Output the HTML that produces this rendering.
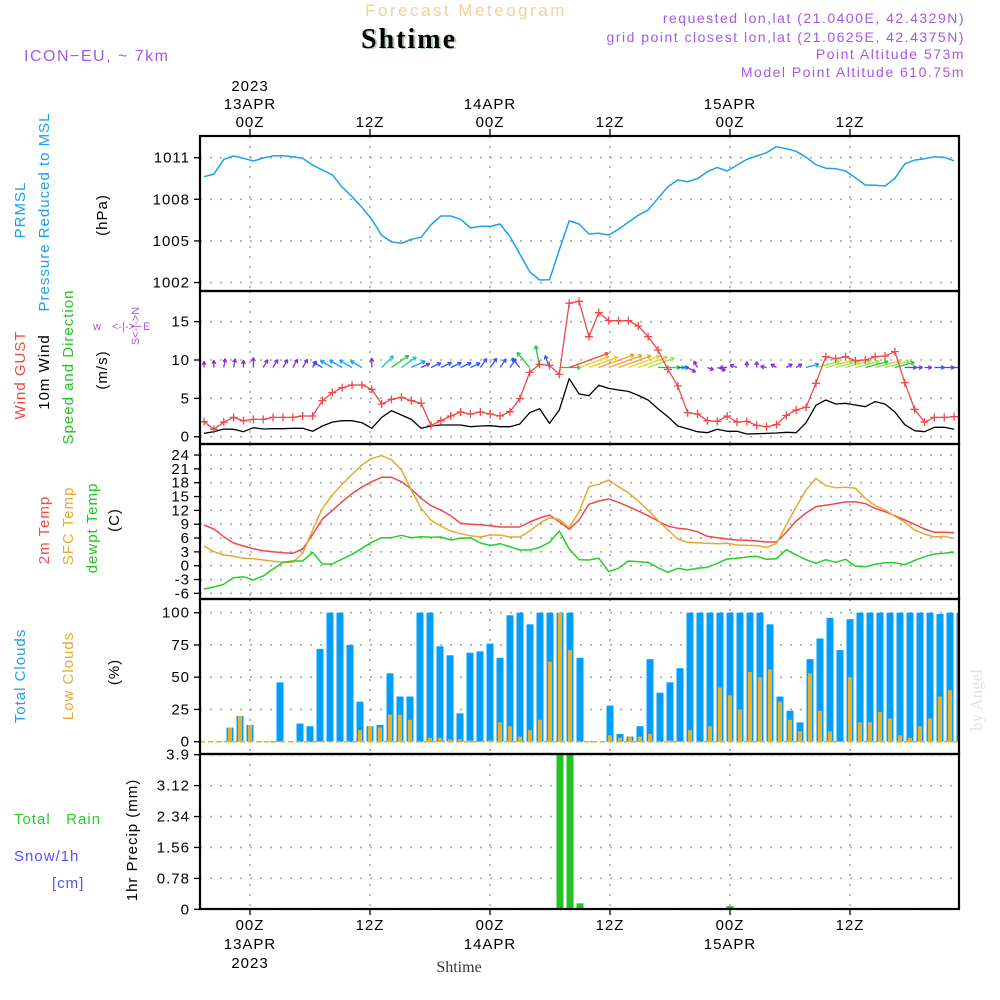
<!DOCTYPE html>
<html><head><meta charset="utf-8"><title>Forecast Meteogram Shtime</title>
<style>
html,body{margin:0;padding:0;background:#fff;}
svg{display:block;font-family:"Liberation Sans",sans-serif;}
.tl{font-size:15px;fill:#000;letter-spacing:1px;}
.hd{font-size:15px;letter-spacing:1.5px;}
</style></head>
<body>
<svg id="chart" width="1000" height="1000" viewBox="0 0 1000 1000" xmlns="http://www.w3.org/2000/svg">
<defs><clipPath id="plotclip"><rect x="200" y="130" width="759" height="790"/></clipPath></defs>
<rect width="1000" height="1000" fill="#fff"/>
<text x="466" y="16" text-anchor="middle" class="hd" style="font-size:17px;letter-spacing:2.5px" fill="#f2d09a">Forecast Meteogram</text>
<text x="411" y="49" text-anchor="middle" font-family="Liberation Serif" font-weight="bold" font-size="28" letter-spacing="2" fill="#b8d0b8">Shtime</text>
<text x="409" y="48" text-anchor="middle" font-family="Liberation Serif" font-weight="bold" font-size="28" letter-spacing="2" fill="#000">Shtime</text>
<text x="24" y="61" class="hd" style="font-size:16px" fill="#a855e8">ICON−EU, ~ 7km</text>
<g fill="#a855e8" class="hd" text-anchor="end" style="font-size:14px">
<text x="965" y="23">requested lon,lat (21.0400E, 42.4329N)</text>
<text x="965" y="42">grid point closest lon,lat (21.0625E, 42.4375N)</text>
<text x="965" y="59">Point Altitude 573m</text>
<text x="965" y="77">Model Point Altitude 610.75m</text>
</g>
<g id="grid"></g>
<g id="marks" clip-path="url(#plotclip)"></g>
<g id="frames"></g>
<g id="labels"></g>
<text transform="translate(982,700) rotate(-90)" text-anchor="middle" font-family="Liberation Serif" font-size="17" fill="#dde6dd">by Angel</text>
<text x="459" y="972" text-anchor="middle" font-family="Liberation Serif" font-size="16" fill="#333">Shtime</text>
</svg>
<script>
// ---- data ----
const lineStart = -4.6, lineStep = 0.987;
const pressure = [1009.63,1009.82,1010.88,1011.12,1010.96,1010.76,1010.98,1011.14,1011.14,1011.07,1010.96,1010.47,1010.11,1009.77,1008.87,1008.19,1007.42,1006.56,1005.4,1004.92,1004.83,1005.12,1005.26,1006.17,1006.8,1006.8,1006.56,1005.93,1006.05,1006.05,1006.22,1005.3,1004.06,1002.78,1002.18,1002.2,1004.35,1006.44,1006.22,1005.5,1005.55,1005.43,1005.84,1006.36,1006.85,1007.23,1008.07,1008.91,1009.39,1009.27,1009.49,1009.99,1010.3,1010.04,1010.47,1010.88,1011.12,1011.36,1011.79,1011.65,1011.46,1011.03,1010.5,1010.24,1010.21,1010.04,1009.56,1009.03,1009.01,1008.96,1009.51,1010.55,1010.83,1010.93,1011.07,1011.03,1010.78];
const gust = [1.96,0.96,1.91,2.52,2.09,2.26,2.26,2.52,2.52,2.52,2.7,2.7,4.7,5.74,6.39,6.74,6.74,6.17,4.26,4.87,5.13,4.7,4.35,1.48,2.09,2.7,3.22,2.96,3.22,2.96,2.7,3.26,4.96,8.39,9.43,9.3,8.13,17.4,17.65,13.04,16.17,15.13,15.13,15.13,14.43,13.04,11.3,8.78,6.61,3.13,2.96,2.09,2.0,2.7,1.91,2.0,1.48,1.3,1.57,2.78,3.48,3.83,6.96,10.43,10.17,10.43,9.91,10.0,10.43,10.52,11.09,7.04,3.57,1.91,2.52,2.52,2.61];
const wind10 = [0.43,0.65,1.0,0.96,0.65,1.17,1.0,1.04,1.04,1.09,1.09,0.7,1.39,1.91,2.09,2.09,1.83,1.09,2.52,3.39,2.83,2.26,1.09,1.39,1.52,1.52,1.52,1.3,1.39,1.43,1.3,1.3,1.65,3.13,3.65,1.74,3.48,7.57,5.57,5.35,6.7,6.3,6.09,5.91,5.39,4.78,3.65,2.61,1.39,1.04,0.65,0.52,0.96,0.7,0.7,0.35,0.39,0.43,0.48,0.57,0.52,1.83,4.09,4.78,4.26,4.35,4.13,3.91,4.57,4.26,3.22,1.57,0.78,0.65,1.22,1.22,0.96];
const windDir = [90,90,80,80,90,90,60,60,60,60,60,60,150,150,150,150,150,90,45,35,35,25,25,25,25,25,25,25,55,55,55,55,130,130,100,110,0,20,20,20,20,20,20,20,20,20,0,0,0,-30,120,-20,-20,180,160,90,90,170,150,30,30,15,15,15,15,15,15,15,15,15,15,0,0,0,0,0,0];
const temp2m = [8.83,7.96,6.3,4.92,4.27,3.69,3.26,3.04,2.83,2.68,3.62,6.8,10.13,12.0,13.89,15.63,17.07,18.23,19.17,19.17,18.23,16.64,14.61,13.02,12.08,10.85,9.19,8.97,8.9,8.68,8.39,8.39,8.39,9.48,10.35,11.0,9.55,7.89,9.91,13.31,14.03,14.47,13.75,12.81,11.87,10.85,9.7,8.61,8.11,7.89,7.38,6.37,6.08,5.79,5.57,5.5,5.36,5.14,5.14,7.24,9.7,11.43,12.81,13.1,13.46,13.82,13.89,13.46,12.44,11.72,10.85,9.91,8.97,7.96,7.24,7.24,7.16];
const tempSfc = [4.27,3.04,2.32,2.03,1.6,1.53,1.24,0.95,0.73,0.73,2.68,7.74,12.44,15.34,17.65,19.82,21.84,23.29,23.87,23.0,20.76,16.42,12.44,9.84,8.61,7.53,6.95,6.51,6.23,6.66,6.66,6.23,6.23,7.53,9.19,10.42,10.06,8.25,11.72,17.14,17.65,18.59,17.14,15.84,14.03,12.01,9.84,7.74,5.79,5.07,5.0,4.85,4.78,4.85,4.49,4.42,4.35,3.98,4.85,8.83,12.8,16.42,18.95,17.36,16.93,17.0,16.78,14.61,13.02,12.08,10.71,9.41,7.74,6.88,6.23,6.37,5.94];
const dewpt = [-5.05,-4.62,-4.04,-2.6,-2.38,-3.1,-2.23,-0.72,0.73,1.02,1.02,2.9,0.37,0.37,1.45,2.47,3.77,5.07,6.08,6.08,6.59,6.08,6.3,6.15,6.22,5.57,5.94,6.08,4.92,4.35,4.78,4.13,3.41,3.41,3.98,5.07,7.53,3.62,1.31,1.24,1.6,-1.29,-0.57,1.02,0.87,0.73,-0.43,-1.44,-0.57,-0.93,-0.57,-0.35,0.51,1.45,1.6,1.89,2.03,1.38,1.52,3.48,2.32,1.31,0.51,1.31,0.73,1.38,-0.08,-0.22,0.3,0.66,0.66,0.22,1.16,1.96,2.54,2.68,2.97];
const barStart = -4;
const totalClouds = [0,0,11,20,13,0,0,46,0,14,12,72,100,100,75,31,12,13,53,35,35,100,100,74,67,22,69,70,76,65,98,100,91,100,100,100,100,65,0,0,28,6,4,12,64,38,46,57,100,100,100,100,100,100,100,100,91,35,24,15,64,80,96,71,95,100,100,100,100,100,100,100,100,99,100,100];
const lowClouds = [0,0,11,20,13,0,0,0,0,0,0,0,0,0,0,9,12,11,21,21,17,0,3,3,2,2,1,0,1,15,12,4,9,17,62,100,71,0,0,0,5,3,4,4,6,0,1,0,9,0,12,42,36,25,54,50,56,31,17,8,53,24,8,0,50,15,15,23,18,5,3,12,18,35,40,42];
const precip = [0,0,0,0,0,0,0,0,0,0,0,0,0,0,0,0,0,0,0,0,0,0,0,0,0,0,0,0,0,0,0,0,0,0,0,3.9,3.9,0.15,0,0,0,0,0,0,0,0,0,0,0,0,0,0,0.08,0,0,0,0,0,0,0,0,0,0,0,0,0,0,0,0,0,0,0,0,0,0,0];
const pTicks = [1002,1005,1008,1011];
const wTicks = [0,5,10,15];
const tTicks = [-6,-3,0,3,6,9,12,15,18,21,24];
const cTicks = [0,25,50,75,100];
const rTicks = ["0","0.78","1.56","2.34","3.12","3.9"];
const timeTicks = [0,12,24,36,48,60];
const timeTickLabels = ["00Z","12Z","00Z","12Z","00Z","12Z"];
const dayLabels = ["13APR","","14APR","","15APR",""];

// ---- axes ----
const L=200,R=959;
const X = h => 250 + 10*h;
const yP = p => 157.7 + (1011-p)*13.87;
const yW = v => 436.7 - v*7.67;
const yT = v => 565.7 - v*4.61;
const yC = v => 741.7 - v*1.29;
const yR = v => 909.3 - v*(154.6/3.9);
const panels = [[136,291],[291,444],[444,599],[599,754],[754,909]];
const NS="http://www.w3.org/2000/svg";
function mk(tag, attrs, parent, txt){const e=document.createElementNS(NS,tag);for(const k in attrs)e.setAttribute(k,attrs[k]);if(txt!==undefined)e.textContent=txt;parent.appendChild(e);return e;}
const grid=document.getElementById('grid'), marks=document.getElementById('marks'), frames=document.getElementById('frames'), labels=document.getElementById('labels');
const lx = i => X(lineStart + lineStep*i);

// grid
const dash={stroke:"#a8a8a8","stroke-width":1.6,"stroke-dasharray":"2 8"};
panels.forEach(([a,b])=>{timeTicks.forEach(t=>{const g=mk('line',Object.assign({x1:X(t),x2:X(t),y1:a,y2:b},dash),grid);

});});
function hgrid(ticks,fy,name){ticks.forEach(v=>{const g=mk('line',Object.assign({x1:L,x2:R,y1:fy(v),y2:fy(v)},dash),grid);

});}
hgrid(pTicks,yP,'pressure-gridline');hgrid(wTicks,yW,'wind-gridline');hgrid(tTicks,yT,'temp-gridline');hgrid(cTicks,yC,'cloud-gridline');
hgrid(rTicks.map(Number),yR,'precip-gridline');

// lines
function line(arr,fy,color,name,w){const pts=arr.map((v,i)=>lx(i).toFixed(1)+','+fy(v).toFixed(1)).join(' ');
const p=mk('polyline',{points:pts,fill:'none',stroke:color,'stroke-width':w||1.4,'stroke-linejoin':'round'},marks);

return p;}
line(pressure,yP,'#1aa0f0','pressure-line',1.5);

// clouds
totalClouds.forEach((v,i)=>{const x=X(barStart+i);
const b=mk('rect',{x:x-3.5,y:yC(v),width:7,height:Math.max(0,yC(0)-yC(v)),fill:'#009ffa'},marks);

});
lowClouds.forEach((v,i)=>{const x=X(barStart+i);
const b=mk('rect',{x:x-2,y:yC(v),width:4,height:Math.max(0,yC(0)-yC(v)),fill:'#e6b030'},marks);

});
mk('line',{x1:L,x2:R,y1:yC(0),y2:yC(0),stroke:'#e6b030','stroke-width':1.5,'stroke-dasharray':'5 3'},marks);

// precip
precip.forEach((v,i)=>{const x=X(barStart+i);
const b=mk('rect',{x:x-3.5,y:yR(v),width:7,height:Math.max(0,yR(0)-yR(v)),fill:'#22c422'},marks);

});

// wind arrows
function spdColor(s){if(s<1.2)return'#8a2be2';if(s<1.8)return'#3355ff';if(s<2.5)return'#10a0ff';if(s<3)return'#10d0c0';if(s<4)return'#20c840';if(s<5)return'#a0e040';if(s<6)return'#e8d020';if(s<7)return'#f0a028';return'#f04040';}
windDir.forEach((d,i)=>{const s=wind10[i];const len=4+5*s;const a=d*Math.PI/180;
const x0=lx(i),y0=367.5,x1=x0+len*Math.cos(a),y1=y0-len*Math.sin(a);
const c=spdColor(s);const g=mk('g',{stroke:c,'stroke-width':1.3,fill:'none'},marks);


mk('line',{x1:x0,y1:y0,x2:x1,y2:y1},g);
const hl=4;[0.5,-0.5].forEach(o=>{mk('line',{x1:x1,y1:y1,x2:x1-hl*Math.cos(a+o),y2:y1+hl*Math.sin(a+o)},g);});});
line(wind10,yW,'#000','wind-10m-line',1.3);
line(gust,yW,'#f04848','wind-gust-line',1.3);
gust.forEach((v,i)=>{const x=lx(i),y=yW(v);const g=mk('path',{d:`M${x-4},${y}H${x+4}M${x},${y-4}V${y+4}`,stroke:'#f04848','stroke-width':1.3},marks);

});

// temps
line(temp2m,yT,'#f04848','temp-2m-line',1.5);
line(tempSfc,yT,'#e8a830','temp-sfc-line',1.5);
line(dewpt,yT,'#22d022','dewpoint-line',1.5);

// frames
panels.forEach(([a,b])=>{const f=mk('rect',{x:L,y:a,width:R-L,height:b-a,fill:'none',stroke:'#000','stroke-width':2.2},frames);

});
timeTicks.forEach(t=>{mk('line',{x1:X(t),x2:X(t),y1:129,y2:136,stroke:'#000','stroke-width':1.3},frames);mk('line',{x1:X(t),x2:X(t),y1:909,y2:915,stroke:'#000','stroke-width':1.3},frames);});

// y tick labels
function ylab(ticks,fy,name,txt){ticks.forEach((v,i)=>{const y=fy(Number(v));mk('line',{x1:L-6,x2:L,y1:y,y2:y,stroke:'#000','stroke-width':1.3},frames);
const t=mk('text',{x:190,y:y+5,'text-anchor':'end',class:'tl'},labels,txt?txt[i]:String(v));

});}
ylab(pTicks,yP,'pressure-tick-label');ylab(wTicks,yW,'wind-tick-label');ylab(tTicks,yT,'temp-tick-label');ylab(cTicks,yC,'cloud-tick-label');ylab(rTicks,yR,'precip-tick-label');

// time labels
timeTicks.forEach((t,i)=>{const x=X(t);
const a=mk('text',{x:x,y:127,'text-anchor':'middle',class:'tl'},labels,timeTickLabels[i]);


const b=mk('text',{x:x,y:930,'text-anchor':'middle',class:'tl'},labels,timeTickLabels[i]);


if(dayLabels[i]){const c=mk('text',{x:x,y:109,'text-anchor':'middle',class:'tl'},labels,dayLabels[i]);


const d=mk('text',{x:x,y:949,'text-anchor':'middle',class:'tl'},labels,dayLabels[i]);

}});
[[91,'top-year-label'],[968,'bottom-year-label']].forEach(([y,n])=>{const e=mk('text',{x:X(0),y:y,'text-anchor':'middle',class:'tl'},labels,'2023');

});

// rotated panel titles
const vt=[['PRMSL',20,210,'#1aa0f0'],['Pressure Reduced to MSL',44,212,'#1aa0f0'],['(hPa)',102,215,'#000'],
['Wind GUST',20,375,'#f04848'],['10m Wind',44,372,'#000'],['Speed and Direction',68,367,'#22c422'],['(m/s)',102,370,'#000'],
['2m Temp',44,530,'#f04848'],['SFC Temp',68,526,'#e8a830'],['dewpt Temp',92,528,'#22c422'],['(C)',114,520,'#000'],
['Total Clouds',20,676,'#1aa0f0'],['Low Clouds',68,676,'#e8a830'],['(%)',114,672,'#000'],['1hr Precip (mm)',132,840,'#000']];
vt.forEach(([s,x,y,c])=>{const t=mk('text',{transform:`translate(${x+5},${y}) rotate(-90)`,'text-anchor':'middle',fill:c,class:'tl'},labels,s);
t.style.fill=c;

});
// compass
const cg=mk('g',{fill:'#a855e8','font-size':'11'},labels);


mk('text',{transform:'translate(139,326) rotate(-90)','text-anchor':'middle','font-size':'11',fill:'#a855e8'},cg,'S<-|->N');
mk('text',{x:93,y:330,'font-size':'11',fill:'#a855e8'},cg,'w');
mk('text',{x:112,y:330,'font-size':'11',fill:'#a855e8'},cg,'<-|->');
mk('text',{x:143,y:330,'font-size':'11',fill:'#a855e8'},cg,'E');
// precip legend
[['Total   Rain',14,824,'#22d022','precip-legend-rain'],['Snow/1h',14,861,'#5050ff','precip-legend-snow'],['[cm]',52,888,'#5050ff','precip-legend-unit']].forEach(([s,x,y,c,n])=>{
const t=mk('text',{x:x,y:y,fill:c,class:'tl','xml:space':'preserve'},labels,s);
t.style.fill=c;t.style.whiteSpace='pre';

});
</script>
</body></html>
